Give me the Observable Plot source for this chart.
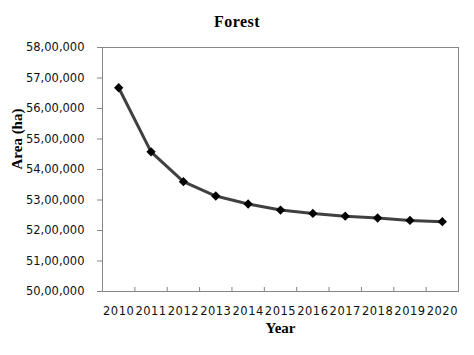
<!DOCTYPE html>
<html><head><meta charset="utf-8">
<script src="https://cdn.jsdelivr.net/npm/d3@7"></script>
<script src="https://cdn.jsdelivr.net/npm/@observablehq/plot@0.6"></script>
<style>
body{margin:0;background:#fff;}
#title{width:474px;height:30px;box-sizing:border-box;padding-top:14px;text-align:center;font-family:"Liberation Serif";font-weight:bold;font-size:16px;line-height:16px;letter-spacing:0.5px;color:#000;}
#chart g[aria-label="x-axis tick label"] text{letter-spacing:0.5px;}
</style></head><body>
<div id="title">Forest</div>
<div id="chart"></div>
<script>
const years = [2010, 2011, 2012, 2013, 2014, 2015, 2016, 2017, 2018, 2019, 2020];
const area = [5668000, 5458000, 5360000, 5313000, 5287000, 5267000, 5256000, 5247000, 5241000, 5233000, 5229000];
const yTicks = [5000000, 5100000, 5200000, 5300000, 5400000, 5500000, 5600000, 5700000, 5800000];
const yLabel = "Area (ha)";
const xLabel = "Year";

function inr(n){
  const s = String(Math.round(n));
  const last3 = s.slice(-3);
  let rest = s.slice(0, -3);
  const parts = [];
  while (rest.length > 2) { parts.unshift(rest.slice(-2)); rest = rest.slice(0, -2); }
  if (rest) parts.unshift(rest);
  return parts.length ? parts.join(",") + "," + last3 : last3;
}

const data = years.map((year, i) => ({year, area: area[i]}));
const boundaries = years.map(y => y - 0.5).concat([years[years.length - 1] + 0.5]);

const chart = Plot.plot({
  width: 474, height: 325,
  marginTop: 17, marginBottom: 64, marginLeft: 102, marginRight: 16,
  style: {fontFamily: "DejaVu Sans", fontSize: "11.5px", color: "#000", background: "#fff"},
  x: {domain: [boundaries[0], boundaries[boundaries.length - 1]]},
  y: {domain: [yTicks[0], yTicks[yTicks.length - 1]]},
  marks: [
    Plot.frame({stroke: "#868686"}),
    Plot.axisY({ticks: yTicks, tickFormat: inr, tickSize: 5, tickPadding: 13, stroke: "#868686", fill: "#111", label: null}),
    Plot.axisX({ticks: boundaries, tickSize: 4, dy: -4, tickFormat: () => "", stroke: "#868686", label: null}),
    Plot.axisX({ticks: years, tickSize: 0, tickPadding: 15, tickFormat: d => String(d), fill: "#111", label: null}),
    Plot.line(data, {x: "year", y: "area", stroke: "#404040", strokeWidth: 3}),
    Plot.dot(data, {x: "year", y: "area", symbol: "diamond2", r: 4.2, fill: "#000", stroke: "none"}),
    Plot.text([yLabel], {text: d => d, frameAnchor: "left", dx: -85, rotate: -90, fontFamily: "Liberation Serif", fontWeight: "bold", fontSize: 15, fill: "#000"}),
    Plot.text([xLabel], {text: d => d, frameAnchor: "bottom", dy: 41, fontFamily: "Liberation Serif", fontWeight: "bold", fontSize: 15, fill: "#000"})
  ]
});
document.getElementById("chart").appendChild(chart);
</script>
</body></html>
